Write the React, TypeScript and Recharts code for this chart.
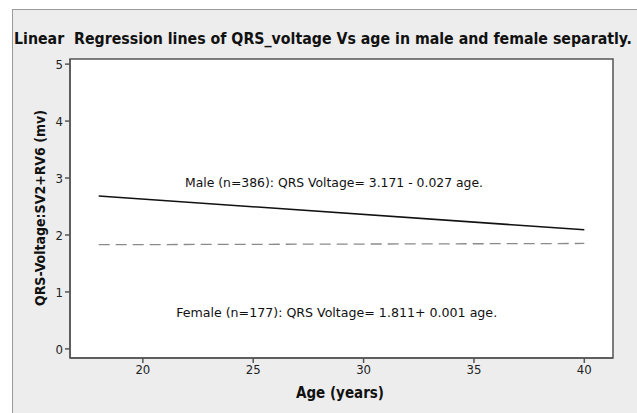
import React from 'react';
import { LineChart, Line, XAxis, YAxis, ReferenceArea, ReferenceDot } from 'recharts';

const ages = [18, 40];
const maleVoltage = [2.685, 2.091];
const femaleVoltage = [1.829, 1.851];
const xTicks = [20, 25, 30, 35, 40];
const yTicks = [0, 1, 2, 3, 4, 5];

const titleText = 'Linear  Regression lines of QRS_voltage Vs age in male and female separatly.';
const maleNote = 'Male (n=386): QRS Voltage= 3.171 - 0.027 age.';
const femaleNote = 'Female (n=177): QRS Voltage= 1.811+ 0.001 age.';

const maleData = ages.map((a, i) => ({ age: a, v: maleVoltage[i] }));
const femaleData = ages.map((a, i) => ({ age: a, v: femaleVoltage[i] }));

const FONT = '"DejaVu Sans Condensed", "DejaVu Sans", sans-serif';
const tickStyle = { fontSize: 13, fill: '#222', fontFamily: FONT };

const noteLabel = (text: string, width: number) => (props: any) => {
  const vb = props.viewBox || {};
  const cx = (vb.x ?? 0) + (vb.width ?? 0) / 2;
  const cy = (vb.y ?? 0) + (vb.height ?? 0) / 2;
  return (
    <text x={cx} y={cy + 4} textAnchor="middle" fontSize={12.5} fontFamily={FONT} fill="#111"
      textLength={width} lengthAdjust="spacingAndGlyphs">
      {text}
    </text>
  );
};

const App: React.FC = () => {
  return (
    <div style={{ position: 'absolute', left: 0, top: 0, width: 637, height: 413, background: '#fff', overflow: 'hidden' }}>
      <div style={{ position: 'absolute', left: 12, top: 9, width: 640, height: 420, background: '#ededed', borderTop: '1px solid #9a9a9a', borderLeft: '1px solid #9a9a9a' }} />
      <svg width={637} height={60} style={{ position: 'absolute', left: 0, top: 0 }}>
        <text x={14} y={44} fontSize={15.5} fontWeight="bold" fontFamily={FONT} fill="#111"
          textLength={618} lengthAdjust="spacingAndGlyphs" xmlSpace="preserve">
          {titleText}
        </text>
      </svg>
      <div style={{ position: 'absolute', left: 0, top: 0 }}>
        <LineChart width={637} height={413} margin={{ top: 59, right: 24, bottom: 15, left: 12 }}>
          <ReferenceArea x1={16.7} x2={41.3} y1={-0.16} y2={5.09} fill="#fff" fillOpacity={1} stroke="#555" strokeWidth={1.5} />
          <XAxis dataKey="age" type="number" domain={[16.7, 41.3]} ticks={xTicks} allowDataOverflow
            height={40} tick={tickStyle} tickSize={5} tickMargin={2} stroke="#555" strokeWidth={1.5}
            label={{
              content: () => (
                <text x={340} y={398} textAnchor="middle" fontSize={15} fontWeight="bold" fontFamily={FONT} fill="#111">Age (years)</text>
              ),
            }} />
          <YAxis type="number" domain={[-0.16, 5.09]} ticks={yTicks} allowDataOverflow
            width={58} tick={tickStyle} tickSize={5} tickMargin={2} stroke="#555" strokeWidth={1.5}
            label={{
              content: () => (
                <text x={40} y={208} transform="rotate(-90 40 208)" dy={5} textAnchor="middle" fontSize={14} fontWeight="bold"
                  fontFamily={FONT} fill="#111" textLength={196} lengthAdjust="spacingAndGlyphs">
                  QRS-Voltage:SV2+RV6 (mv)
                </text>
              ),
            }} />
          <Line data={maleData} dataKey="v" type="linear" stroke="#111" strokeWidth={1.5} dot={false} isAnimationActive={false} />
          <Line data={femaleData} dataKey="v" type="linear" stroke="#8a8a8a" strokeWidth={1.3} strokeDasharray="11 6" dot={false} isAnimationActive={false} />
          <ReferenceDot x={28.66} y={2.91} r={0} fill="none" stroke="none" label={{ content: noteLabel(maleNote, 298) }} />
          <ReferenceDot x={28.78} y={0.63} r={0} fill="none" stroke="none" label={{ content: noteLabel(femaleNote, 321) }} />
        </LineChart>
      </div>
    </div>
  );
};

export default App;
